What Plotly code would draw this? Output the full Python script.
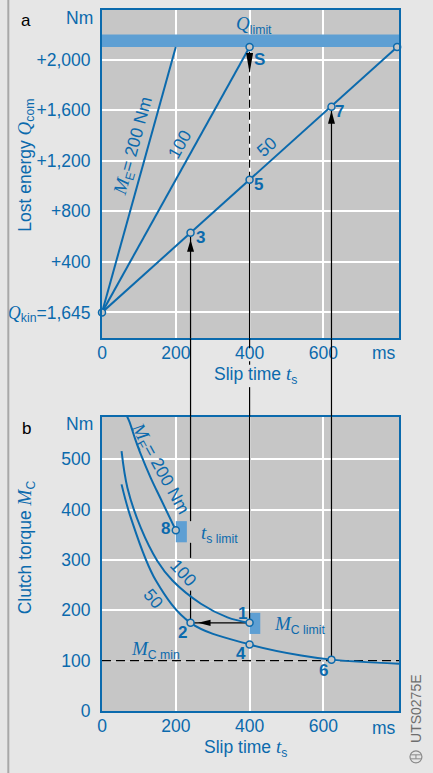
import plotly.graph_objects as go

# ---------------- data ----------------
# (a) lost energy Q_com over slip time t_s; the energy axis starts at Q_kin = 1,645 Nm
me_names = ["200", "100", "50"]          # engine torque M_E, Nm
me_t_limit = [200, 400, 800]             # slip time at which Q_limit is reached, ms
q_kin = 0
q_limit = 2100
q_limit_top = 2200

a_pt_label = ["", "3", "5", "S", "7", ""]
a_pt_t = [0, 240, 400, 400, 622, 800]
a_pt_q = [0, 630, 1050, 2100, 1628, 2100]

a_tick_vals = [0, 400, 800, 1200, 1600, 2000]
a_tick_text = ["Q_kin", "+400", "+800", "+1,200", "+1,600", "+2,000"]

# (b) clutch torque M_C over slip time t_s
c200_t = [66, 74, 90, 105, 132, 160, 200]
c200_m = [588, 575, 540, 510, 463, 420, 359]
c100_t = [53, 69, 105, 150, 191, 268, 340, 400]
c100_m = [516, 443, 364, 298, 259, 213, 186, 175]
c50_t = [53, 78, 146, 240, 400, 540, 622, 805]
c50_m = [450, 384, 259, 175, 132, 110, 102, 94]

b_pt_label = ["1", "2", "4", "6", "8"]
b_pt_t = [400, 240, 400, 622, 200]
b_pt_m = [175, 175, 132, 102, 359]

mc_min = 100
ts_limit_box_t = [200, 230]
ts_limit_box_m = [335, 377]
mc_limit_box_t = [400, 429]
mc_limit_box_m = [153, 195]

b_tick_vals = [0, 100, 200, 300, 400, 500]
t_tick_vals = [0, 200, 400, 600]

# ---------------- styling ----------------
BLUE = "#0b6aad"
BOX = "#5e9fd3"
PLOT_BG = "#c6c6c6"
PAPER_BG = "#e6e6e6"
FONT = "Liberation Sans, Arial, Helvetica, sans-serif"
SERIF = "Liberation Serif, Times New Roman, serif"
FS = 17.5

W, H = 433, 773
L, R, T, B = 101, 399, 7.5, 711          # plot block in pixels
A_BOTTOM, B_TOP = 337, 415.7             # inner edges of the two panels


def px(x):
    return (x - L) / (R - L)


def py(y):
    return (B - y) / (B - T)


def var(s, size=19):
    return f"<span style='font-family:{SERIF};font-size:{size}px'><i>{s}</i></span>"


x_range = [0, 805]
ya_range = [-205, 2393]
yb_range = [0, 584.3]

a_tick_text[0] = var("Q", 18) + "<sub>kin</sub>=1,645"

fig = go.Figure()

# ---- panel a: energy lines ----
for name, t_end in zip(me_names, me_t_limit):
    fig.add_trace(go.Scatter(x=[0, t_end], y=[q_kin, q_limit], mode="lines",
                             line=dict(color=BLUE, width=2), xaxis="x", yaxis="y",
                             hoverinfo="skip", showlegend=False))

# ---- panel b: torque curves ----
for ct, cm in [(c200_t, c200_m), (c100_t, c100_m), (c50_t, c50_m)]:
    fig.add_trace(go.Scatter(x=ct, y=cm, mode="lines", line=dict(color=BLUE, width=2, shape="spline"),
                             xaxis="x2", yaxis="y2", hoverinfo="skip", showlegend=False))

# ---- point markers ----
marker = dict(size=7, color=PLOT_BG, line=dict(color=BLUE, width=1.5))
fig.add_trace(go.Scatter(x=a_pt_t, y=a_pt_q, mode="markers", marker=marker, cliponaxis=False,
                         xaxis="x", yaxis="y", hoverinfo="skip", showlegend=False))
fig.add_trace(go.Scatter(x=b_pt_t, y=b_pt_m, mode="markers", marker=marker, cliponaxis=False,
                         xaxis="x2", yaxis="y2", hoverinfo="skip", showlegend=False))

shapes = []

# Q_limit band and limit boxes
shapes.append(dict(type="rect", xref="x", yref="y", x0=x_range[0], x1=x_range[1], y0=q_limit, y1=q_limit_top,
                   fillcolor=BOX, line_width=0, layer="between"))
shapes.append(dict(type="rect", xref="x2", yref="y2", x0=ts_limit_box_t[0], x1=ts_limit_box_t[1],
                   y0=ts_limit_box_m[0], y1=ts_limit_box_m[1], fillcolor=BOX, line_width=0, layer="between"))
shapes.append(dict(type="rect", xref="x2", yref="y2", x0=mc_limit_box_t[0], x1=mc_limit_box_t[1],
                   y0=mc_limit_box_m[0], y1=mc_limit_box_m[1], fillcolor=BOX, line_width=0, layer="between"))

# M_C min: dashed line (masking the grid line underneath)
shapes.append(dict(type="line", xref="x2", yref="y2", x0=x_range[0], x1=x_range[1], y0=mc_min, y1=mc_min,
                   line=dict(color=PLOT_BG, width=2), layer="between"))
shapes.append(dict(type="line", xref="x2", yref="y2", x0=x_range[0], x1=x_range[1], y0=mc_min, y1=mc_min,
                   line=dict(color="black", width=1.2, dash="9px,5px"), layer="between"))

BLACK = dict(color="black", width=1.2)


def vseg(t, y0, y1, yref, dash=None):
    ln = dict(BLACK)
    if dash:
        ln["dash"] = dash
    shapes.append(dict(type="line", xref="x2" if yref == "y2" else "x", yref=yref,
                       x0=t, x1=t, y0=y0, y1=y1, line=ln,
                       layer="above" if yref == "paper" else "between"))


t3, q3 = a_pt_t[1], a_pt_q[1]
t5, q5 = a_pt_t[2], a_pt_q[2]
tS, qS = a_pt_t[3], a_pt_q[3]
t7, q7 = a_pt_t[4], a_pt_q[4]
t1, m1 = b_pt_t[0], b_pt_m[0]
t2, m2 = b_pt_t[1], b_pt_m[1]
t6, m6 = b_pt_t[3], b_pt_m[3]

# point 2 -> point 3
vseg(t2, m2, 239, "y2")
vseg(t2, 304, 334, "y2")
vseg(t2, 377, yb_range[1], "y2")
vseg(t2, py(B_TOP), py(A_BOTTOM), "paper")
vseg(t3, ya_range[0], q3, "y")
# point 1 -> point 5 -> S
vseg(t1, m1, yb_range[1], "y2")
for a, b in [(A_BOTTOM, 347), (360, 363.5), (386, B_TOP)]:
    vseg(t1, py(b), py(a), "paper")
vseg(t5, ya_range[0], q5, "y")
vseg(tS, q5, qS, "y", dash="8px,4px")
# point 6 -> point 7
vseg(t6, m6, yb_range[1], "y2")
vseg(t6, py(B_TOP), py(A_BOTTOM), "paper")
vseg(t7, ya_range[0], q7, "y")
# point 1 -> point 2
shapes.append(dict(type="line", xref="x2", yref="y2", x0=t1, x1=t2, y0=m1, y1=m2,
                   line=BLACK, layer="between"))


def arrow(t, v, path, xref, yref):
    shapes.append(dict(type="path", xref=xref, yref=yref, xsizemode="pixel", ysizemode="pixel",
                       xanchor=t, yanchor=v, path=path, fillcolor="black", line_width=0))


arrow(t3, q3, "M0,-7 L-3.5,-19 L3.5,-19 Z", "x", "y")
arrow(t7, q7, "M0,-4 L-3.5,-17 L3.5,-17 Z", "x", "y")
arrow(tS, qS, "M-3.5,-6 L3.5,-6 L0,-26 Z", "x", "y")
arrow(t2, m2, "M7.5,0 L20,3.2 L20,-3.2 Z", "x2", "y2")

# side rule and logo
shapes.append(dict(type="rect", xref="paper", yref="paper", x0=px(6), x1=px(8), y0=py(H + 20), y1=py(-20),
                   fillcolor="#a8a8a8", line_width=0, layer="above"))
LOGO = "#8a8a8a"
shapes.append(dict(type="circle", xref="paper", yref="paper", x0=px(410), x1=px(422), y0=py(763), y1=py(751),
                   line=dict(color=LOGO, width=1.2)))
for yy in (755, 759):
    shapes.append(dict(type="line", xref="paper", yref="paper", x0=px(411), x1=px(421), y0=py(yy), y1=py(yy),
                       line=dict(color=LOGO, width=1)))
shapes.append(dict(type="line", xref="paper", yref="paper", x0=px(416), x1=px(416), y0=py(759), y1=py(755),
                   line=dict(color=LOGO, width=1)))

# ---------------- annotations ----------------
ann = []


def text(s, x, y, xref="paper", yref="paper", size=FS, color=BLUE, angle=0, xanchor="center",
         yanchor="middle", xshift=0, yshift=0):
    ann.append(dict(text=s, x=x, y=y, xref=xref, yref=yref, showarrow=False, textangle=angle,
                    font=dict(family=FONT, size=size, color=color), xanchor=xanchor, yanchor=yanchor,
                    xshift=xshift, yshift=yshift))


# point numbers
offs_a = {"3": (9.7, -4.7), "5": (9.3, -4.5), "S": (10.3, -12.5), "7": (8.3, -5.3)}
for lab, t, q in zip(a_pt_label, a_pt_t, a_pt_q):
    if lab:
        dx, dy = offs_a[lab]
        text(f"<b>{lab}</b>", t, q, "x", "y", size=17, xshift=dx, yshift=dy)
offs_b = {"1": (-6.8, 9.8), "2": (-8.2, -9.2), "4": (-8.3, -8.7), "6": (-7.7, -10.7), "8": (-10.7, 1.3)}
for lab, t, m in zip(b_pt_label, b_pt_t, b_pt_m):
    dx, dy = offs_b[lab]
    text(f"<b>{lab}</b>", t, m, "x2", "y2", size=17, xshift=dx, yshift=dy)

ME = var("M") + "<sub>E</sub>= 200 Nm"
# panel a line labels
text(ME, 86.5, 1316, "x", "y", angle=-74.5)
text("100", 211, 1332, "x", "y", angle=-61)
text("50", 446, 1309, "x", "y", angle=-42)
text(var("Q") + "<sub>limit</sub>", 411, 2278, "x", "y")
# panel b curve labels
text(ME, 156.8, 480.8, "x2", "y2", angle=61)
text("100", 221.6, 275, "x2", "y2", angle=47)
text("50", 139, 221.6, "x2", "y2", angle=50)
text(var("t") + "<sub>s limit</sub>", 262, 352, "x2", "y2", xanchor="left")
text(var("M") + "<sub>C limit</sub>", 462, 170, "x2", "y2", xanchor="left")
text(var("M") + "<sub>C min</sub>", 73, 121, "x2", "y2", xanchor="left")

# axis titles and units
text("Lost energy " + var("Q") + "<sub>com</sub>", px(25), py(163.5), angle=-90)
text("Clutch torque " + var("M") + "<sub>C</sub>", px(25), py(546.5), angle=-90)
text("Slip time " + var("t") + "<sub>s</sub>", px(255), py(374))
text("Slip time " + var("t") + "<sub>s</sub>", px(245), py(748))
text("Nm", px(93.5), py(15.7), xanchor="right")
text("Nm", px(93.5), py(423.3), xanchor="right")
text("ms", px(398), py(352), xanchor="right")
text("ms", px(398), py(728), xanchor="right")
text("a", px(24.5), py(18), color="black", size=17)
text("b", px(25), py(427), color="black", size=17)
text("UTS0275E", px(416), py(709), color="#6e6e6e", size=14, angle=-90)

axis_common = dict(showgrid=True, gridcolor="white", gridwidth=1.5, zeroline=False, showline=True,
                   linecolor=BLUE, linewidth=2, mirror=True, ticks="",
                   tickfont=dict(family=FONT, size=FS, color=BLUE), fixedrange=True)

fig.update_layout(
    width=W, height=H, autosize=False,
    margin=dict(l=L, r=W - R, t=T, b=H - B, pad=0),
    paper_bgcolor=PAPER_BG, plot_bgcolor=PLOT_BG,
    font=dict(family=FONT, size=FS, color=BLUE),
    showlegend=False,
    xaxis=dict(domain=[0, 1], anchor="y", range=x_range, tickvals=t_tick_vals,
               ticktext=[str(v) for v in t_tick_vals], ticklabelstandoff=-2, **axis_common),
    yaxis=dict(domain=[py(A_BOTTOM), 1], anchor="x", range=ya_range, tickvals=a_tick_vals,
               ticktext=a_tick_text, ticklabelstandoff=6, **axis_common),
    xaxis2=dict(domain=[0, 1], anchor="y2", range=x_range, tickvals=t_tick_vals,
                ticktext=[str(v) for v in t_tick_vals], ticklabelstandoff=-2, **axis_common),
    yaxis2=dict(domain=[0, py(B_TOP)], anchor="x2", range=yb_range, tickvals=b_tick_vals,
                ticktext=[str(v) for v in b_tick_vals], ticklabelstandoff=6, **axis_common),
    shapes=shapes,
    annotations=ann,
)

fig.write_html("out.html")
